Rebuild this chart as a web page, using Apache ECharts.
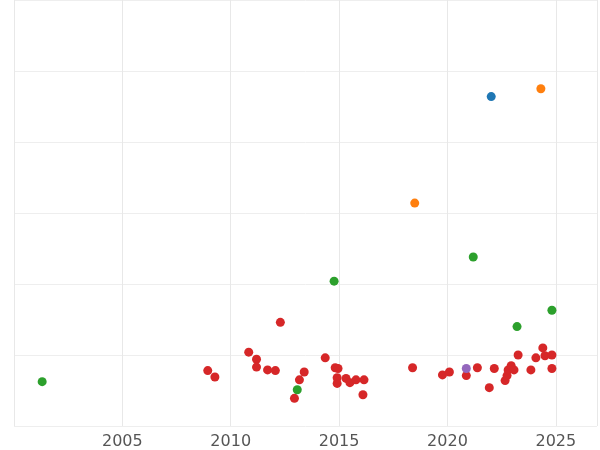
<!DOCTYPE html>
<html><head><meta charset="utf-8">
<script src="https://cdn.jsdelivr.net/npm/echarts@6/dist/echarts.min.js"></script>
<style>html,body{margin:0;padding:0;background:#fff}#c{width:600px;height:450px}</style>
</head><body><div id="c"></div>
<script>
const xTicks = [2005, 2010, 2015, 2020, 2025];
const redPts = [[2008.94,0.78],[2009.27,0.69],[2010.83,1.04],[2011.19,0.94],[2011.19,0.83],[2011.70,0.79],[2012.06,0.78],[2012.29,1.46],[2012.94,0.39],[2013.17,0.65],[2013.39,0.76],[2014.36,0.96],[2014.82,0.82],[2014.95,0.81],[2014.91,0.68],[2014.91,0.60],[2015.32,0.67],[2015.50,0.61],[2015.78,0.65],[2016.10,0.44],[2016.15,0.65],[2018.39,0.82],[2019.77,0.72],[2020.09,0.76],[2020.87,0.71],[2021.38,0.82],[2021.93,0.54],[2022.16,0.81],[2022.66,0.64],[2022.75,0.71],[2022.80,0.79],[2022.94,0.85],[2023.07,0.79],[2023.26,1.00],[2023.85,0.79],[2024.08,0.96],[2024.40,1.10],[2024.50,0.99],[2024.82,1.00],[2024.82,0.81]];
const greenPts = [[2001.3,0.625],[2013.07,0.51],[2014.77,2.04],[2021.19,2.38],[2023.21,1.40],[2024.82,1.63]];
const orangePts = [[2018.49,3.14],[2024.31,4.75]];
const bluePts = [[2022.02,4.64]];
const purplePts = [[2020.87,0.81]];
const chart = echarts.init(document.getElementById('c'));
const mk = (d,c)=>({type:'scatter',data:d,symbolSize:9,itemStyle:{color:c,opacity:1}});
chart.setOption({
  animation:false,
  grid:{left:14,right:0,top:-5,bottom:23},
  xAxis:{type:'value',min:2000,max:2026.9,interval:5,
    axisLine:{show:false},axisTick:{show:false},
    splitLine:{lineStyle:{color:'#e8e8e8'}},
    axisLabel:{color:'#555',fontSize:16,margin:8,fontFamily:'DejaVu Sans',
      formatter:v=>xTicks.includes(v)?String(v):''}},
  yAxis:{type:'value',min:0,max:6,interval:1,axisLabel:{show:false},
    axisLine:{show:false},axisTick:{show:false},
    splitLine:{lineStyle:{color:'#eeeeee'}}},
  series:[mk(redPts,'#d62728'),mk(greenPts,'#2ca02c'),mk(orangePts,'#ff7f0e'),mk(bluePts,'#1f77b4'),mk(purplePts,'#9467bd')]
});
</script></body></html>
